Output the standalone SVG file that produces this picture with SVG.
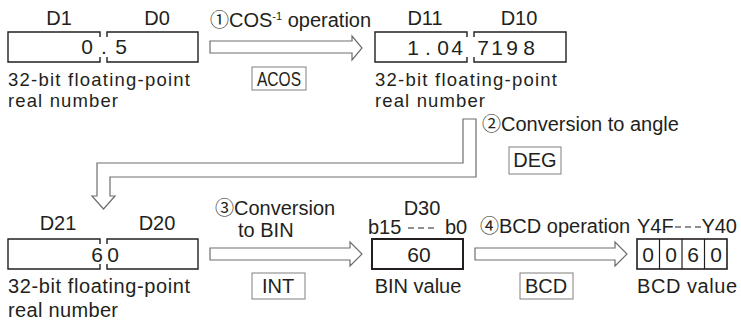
<svg xmlns="http://www.w3.org/2000/svg" width="741" height="325" viewBox="0 0 741 325">
<style>
text{font-family:"Liberation Sans",Arial,sans-serif;fill:#231f20;font-size:20px}
.lbl{font-size:20px}
.sm{font-size:18.5px}
.dig{font-size:21px;text-anchor:middle}
.mid{text-anchor:middle}
.circ{font-family:"Noto Sans CJK JP","DejaVu Sans",sans-serif;font-size:19px}
.obox{fill:none;stroke:#231f20;stroke-width:1.4}
.ibox{fill:#fff;stroke:#808080;stroke-width:1}
.arr{fill:#fff;stroke:#6d6e71;stroke-width:1.2}
.ins{font-size:20px;text-anchor:middle}
.dash{stroke:#231f20;stroke-width:1.2;stroke-dasharray:6 4}
</style>
<rect width="741" height="325" fill="#fff"/>

<g id="connectors">
  <path class="arr" d="M210,41 H352 V36 L362,48 L352,60 V53 H210 Z"/>
  <path class="arr" d="M463,119 H476 V177 H110 V196 H115 L103.5,209 L92,196 H97 V163 H463 Z"/>
  <path class="arr" d="M210,248 H350 V242 L362,254 L350,266 V260 H210 Z"/>
  <path class="arr" d="M475,248 H615 V242 L627,254 L615,266 V260 H475 Z"/>
</g>

<g id="d1d0">
  <text class="lbl mid" x="59" y="25">D1</text>
  <text class="lbl mid" x="157" y="25">D0</text>
  <path class="obox" d="M100,37 V32 H8 V62 H100 V57"/>
  <path class="obox" d="M107,37 V32 H198 V62 H107 V57"/>
  <text class="dig" x="87 104 121" y="54">0.5</text>
  <text class="sm" x="8" y="86" textLength="182">32-bit floating-point</text>
  <text class="sm" x="8" y="107" textLength="110">real number</text>
</g>

<g id="op1">
  <text x="210" y="27" font-size="19"><tspan class="circ">①</tspan><tspan>COS</tspan><tspan font-size="11" dy="-7">-1</tspan><tspan dy="7"> operation</tspan></text>
  <rect class="ibox" x="252" y="67" width="54" height="23"/>
  <text class="ins" x="279" y="86" textLength="44" lengthAdjust="spacingAndGlyphs">ACOS</text>
</g>

<g id="d11d10">
  <text class="lbl mid" x="425" y="25">D11</text>
  <text class="lbl mid" x="519" y="25">D10</text>
  <path class="obox" d="M467,37 V32 H375 V62 H467 V57"/>
  <path class="obox" d="M474,37 V32 H566 V62 H474 V57"/>
  <text class="dig" x="413 428 443 457 483 497 512 529" y="55">1.047198</text>
  <text class="sm" x="375" y="86" textLength="182">32-bit floating-point</text>
  <text class="sm" x="375" y="107" textLength="110">real number</text>
</g>

<g id="op2">
  <text x="482" y="131"><tspan class="circ">②</tspan><tspan>Conversion to angle</tspan></text>
  <rect class="ibox" x="509" y="147" width="52" height="27"/>
  <text class="ins" x="535" y="167">DEG</text>
</g>

<g id="d21d20">
  <text class="lbl mid" x="58" y="230">D21</text>
  <text class="lbl mid" x="157" y="230">D20</text>
  <path class="obox" d="M100,244 V239 H8 V269 H100 V264"/>
  <path class="obox" d="M107,244 V239 H198 V269 H107 V264"/>
  <text class="dig" x="97 113" y="262">60</text>
  <text class="lbl" x="8" y="293" textLength="182">32-bit floating-point</text>
  <text class="lbl" x="8" y="317" textLength="110">real number</text>
</g>

<g id="op3">
  <text x="215" y="215"><tspan class="circ">③</tspan><tspan>Conversion</tspan></text>
  <text x="238" y="237">to BIN</text>
  <rect class="ibox" x="252" y="273" width="53" height="26"/>
  <text class="ins" x="278" y="293">INT</text>
</g>

<g id="d30">
  <text class="lbl mid" x="422" y="215">D30</text>
  <text class="lbl" x="368" y="234">b15</text>
  <line class="dash" x1="408" y1="228" x2="438" y2="228"/>
  <text class="lbl" x="445" y="234">b0</text>
  <rect x="372" y="239" width="91" height="30" fill="#fff" stroke="#231f20" stroke-width="2"/>
  <text class="dig" x="419" y="262">60</text>
  <text class="lbl mid" x="418" y="293">BIN value</text>
</g>

<g id="op4">
  <text x="480" y="233" font-size="18"><tspan class="circ">④</tspan><tspan>BCD operation</tspan></text>
  <rect class="ibox" x="520" y="273" width="53" height="26"/>
  <text class="ins" x="546" y="293">BCD</text>
</g>

<g id="y40">
  <text class="lbl" x="637" y="233">Y4F</text>
  <line class="dash" x1="675" y1="227" x2="703" y2="227"/>
  <text class="lbl" x="737" y="233" text-anchor="end">Y40</text>
  <rect x="637" y="239" width="90" height="30" fill="#fff" stroke="#231f20" stroke-width="1.6"/>
  <line x1="659.5" y1="239" x2="659.5" y2="269" stroke="#231f20" stroke-width="1.2"/>
  <line x1="682" y1="239" x2="682" y2="269" stroke="#231f20" stroke-width="1.2"/>
  <line x1="704.5" y1="239" x2="704.5" y2="269" stroke="#231f20" stroke-width="1.2"/>
  <text class="dig" x="648 671 693 716" y="262">0060</text>
  <text class="lbl" x="637" y="293" textLength="100">BCD value</text>
</g>
</svg>
